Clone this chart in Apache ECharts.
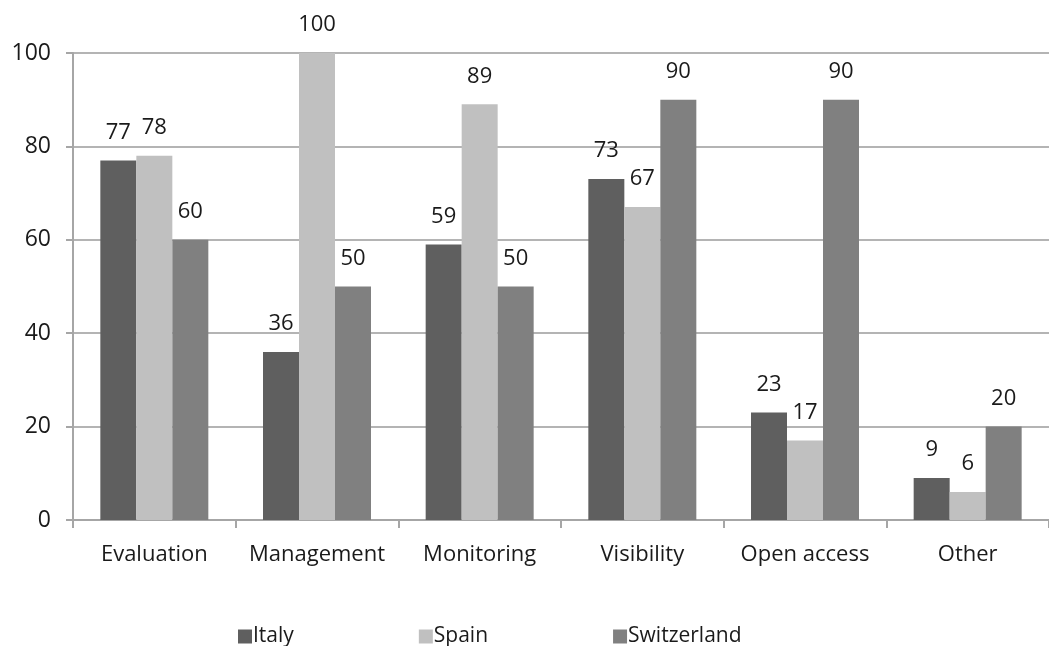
<!DOCTYPE html>
<html>
<head>
<meta charset="utf-8">
<script src="https://cdn.jsdelivr.net/npm/echarts@6/dist/echarts.min.js"></script>
<style>
  html, body { margin: 0; padding: 0; background: #fff; }
  #chart { width: 1049px; height: 646px; }
</style>
</head>
<body>
<div id="chart"></div>
<script>
// Categories and per-country percentages
const categories = ['Evaluation', 'Management', 'Monitoring', 'Visibility', 'Open access', 'Other'];
const italy = [77, 36, 59, 73, 23, 9];
const spain = [78, 100, 89, 67, 17, 6];
const switzerland = [60, 50, 50, 90, 90, 20];
const yTicks = [0, 20, 40, 60, 80, 100];

const FONT = '"Open Sans", "Liberation Sans", sans-serif';
const TEXT = '#1a1a1a';

const barLabel = {
  show: true,
  position: 'top',
  distance: 17,
  color: TEXT,
  fontFamily: FONT,
  fontSize: 22
};

function series(name, data, color) {
  return {
    name: name,
    type: 'bar',
    data: data,
    barWidth: 36,
    barGap: '0%',
    itemStyle: { color: color },
    label: barLabel
  };
}

const chart = echarts.init(document.getElementById('chart'));
chart.setOption({
  animation: false,
  backgroundColor: '#ffffff',
  grid: { left: 73, right: -9, top: 53, bottom: 126 },
  legend: {
    left: 238,
    top: 626,
    padding: 0,
    itemWidth: 14,
    itemHeight: 14,
    itemGap: 125,
    icon: 'rect',
    textStyle: { color: TEXT, fontFamily: FONT, fontSize: 21, padding: [0, 0, 0, -4] },
    data: ['Italy', 'Spain', 'Switzerland']
  },
  xAxis: {
    type: 'category',
    data: categories,
    axisLine: { lineStyle: { color: '#a6a6a6', width: 2 } },
    axisTick: { show: true, interval: 0, length: 8, lineStyle: { color: '#a6a6a6', width: 2 } },
    axisLabel: { interval: 0, color: TEXT, fontFamily: FONT, fontSize: 22, margin: 24 }
  },
  yAxis: {
    type: 'value',
    min: yTicks[0],
    max: yTicks[yTicks.length - 1],
    interval: 20,
    axisLine: { show: true, lineStyle: { color: '#a6a6a6', width: 2 } },
    axisTick: { show: true, length: 7, lineStyle: { color: '#a6a6a6', width: 2 } },
    axisLabel: { color: TEXT, fontFamily: FONT, fontSize: 23, margin: 22 },
    splitLine: { lineStyle: { color: '#b4b4b4', width: 2 } }
  },
  series: [
    series('Italy', italy, '#5f5f5f'),
    series('Spain', spain, '#c0c0c0'),
    series('Switzerland', switzerland, '#808080')
  ]
});
</script>
</body>
</html>
